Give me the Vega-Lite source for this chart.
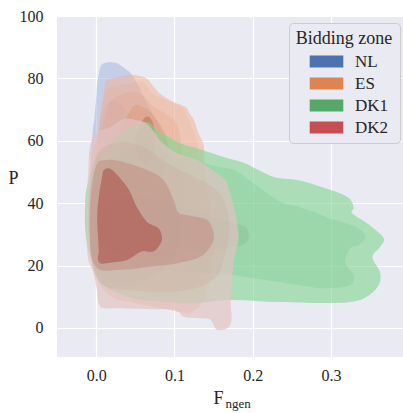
{
  "$schema": "https://vega.github.io/schema/vega-lite/v6.json",
  "width": 346,
  "height": 341,
  "autosize": "none",
  "padding": {"left": 57, "top": 16, "right": 0, "bottom": 56},
  "background": "white",
  "config": {
    "view": {"stroke": null, "fill": "#EAEAF2"},
    "font": "Liberation Serif",
    "axis": {"labelFont": "Liberation Serif", "titleFont": "Liberation Serif", "labelColor": "#262626", "titleColor": "#262626", "titleFontWeight": "normal"},
    "legend": {"labelFont": "Liberation Serif", "titleFont": "Liberation Serif"}
  },
  "datasets": {
    "poly": [
      {"b":"NL1","i":0,"x":-0.005,"y":61},{"b":"NL1","i":1,"x":-0.002,"y":67.6},{"b":"NL1","i":2,"x":0.0004,"y":75},{"b":"NL1","i":3,"x":0.0013,"y":78.3},{"b":"NL1","i":4,"x":0.0055,"y":83.6},{"b":"NL1","i":5,"x":0.012,"y":85},{"b":"NL1","i":6,"x":0.025,"y":85},{"b":"NL1","i":7,"x":0.031,"y":84.2},{"b":"NL1","i":8,"x":0.04,"y":82.6},{"b":"NL1","i":9,"x":0.046,"y":81},{"b":"NL1","i":10,"x":0.055,"y":77},{"b":"NL1","i":11,"x":0.065,"y":72},{"b":"NL1","i":12,"x":0.08,"y":65},{"b":"NL1","i":13,"x":0.095,"y":57},{"b":"NL1","i":14,"x":0.105,"y":48},{"b":"NL1","i":15,"x":0.11,"y":38},{"b":"NL1","i":16,"x":0.105,"y":28},{"b":"NL1","i":17,"x":0.09,"y":20},{"b":"NL1","i":18,"x":0.06,"y":15},{"b":"NL1","i":19,"x":0.03,"y":13},{"b":"NL1","i":20,"x":0.008,"y":14},{"b":"NL1","i":21,"x":-0.004,"y":20},{"b":"NL1","i":22,"x":-0.008,"y":30},{"b":"NL1","i":23,"x":-0.008,"y":45},

      {"b":"NL2","i":0,"x":0.005,"y":65},{"b":"NL2","i":1,"x":0.015,"y":72},{"b":"NL2","i":2,"x":0.03,"y":72},{"b":"NL2","i":3,"x":0.05,"y":66},{"b":"NL2","i":4,"x":0.07,"y":58},{"b":"NL2","i":5,"x":0.085,"y":48},{"b":"NL2","i":6,"x":0.09,"y":38},{"b":"NL2","i":7,"x":0.085,"y":28},{"b":"NL2","i":8,"x":0.06,"y":21},{"b":"NL2","i":9,"x":0.03,"y":19},{"b":"NL2","i":10,"x":0.008,"y":22},{"b":"NL2","i":11,"x":-0.002,"y":32},{"b":"NL2","i":12,"x":-0.002,"y":48},

      {"b":"ES1","i":0,"x":0.0097,"y":75},{"b":"ES1","i":1,"x":0.012,"y":78.8},{"b":"ES1","i":2,"x":0.018,"y":79.8},{"b":"ES1","i":3,"x":0.027,"y":80.4},{"b":"ES1","i":4,"x":0.04,"y":81},{"b":"ES1","i":5,"x":0.052,"y":81},{"b":"ES1","i":6,"x":0.065,"y":79.9},{"b":"ES1","i":7,"x":0.073,"y":77.5},{"b":"ES1","i":8,"x":0.082,"y":75},{"b":"ES1","i":9,"x":0.099,"y":72.4},{"b":"ES1","i":10,"x":0.114,"y":70.8},{"b":"ES1","i":11,"x":0.12,"y":68.5},{"b":"ES1","i":12,"x":0.125,"y":66.6},{"b":"ES1","i":13,"x":0.131,"y":62.3},{"b":"ES1","i":14,"x":0.137,"y":59},{"b":"ES1","i":15,"x":0.138,"y":55},{"b":"ES1","i":16,"x":0.14,"y":48},{"b":"ES1","i":17,"x":0.145,"y":40},{"b":"ES1","i":18,"x":0.15,"y":30},{"b":"ES1","i":19,"x":0.148,"y":20},{"b":"ES1","i":20,"x":0.14,"y":10},{"b":"ES1","i":21,"x":0.12,"y":5},{"b":"ES1","i":22,"x":0.09,"y":6},{"b":"ES1","i":23,"x":0.05,"y":8},{"b":"ES1","i":24,"x":0.02,"y":10},{"b":"ES1","i":25,"x":0.0,"y":16},{"b":"ES1","i":26,"x":-0.007,"y":25},{"b":"ES1","i":27,"x":-0.009,"y":40},{"b":"ES1","i":28,"x":-0.006,"y":55},{"b":"ES1","i":29,"x":0.001,"y":61},{"b":"ES1","i":30,"x":0.0055,"y":69},

      {"b":"ES2","i":0,"x":0.008,"y":72},{"b":"ES2","i":1,"x":0.016,"y":77},{"b":"ES2","i":2,"x":0.035,"y":78},{"b":"ES2","i":3,"x":0.057,"y":78.8},{"b":"ES2","i":4,"x":0.065,"y":77.5},{"b":"ES2","i":5,"x":0.073,"y":75},{"b":"ES2","i":6,"x":0.09,"y":73},{"b":"ES2","i":7,"x":0.105,"y":71.5},{"b":"ES2","i":8,"x":0.112,"y":70},{"b":"ES2","i":9,"x":0.12,"y":65.6},{"b":"ES2","i":10,"x":0.129,"y":60},{"b":"ES2","i":11,"x":0.13,"y":54},{"b":"ES2","i":12,"x":0.132,"y":45},{"b":"ES2","i":13,"x":0.138,"y":35},{"b":"ES2","i":14,"x":0.14,"y":25},{"b":"ES2","i":15,"x":0.13,"y":15},{"b":"ES2","i":16,"x":0.1,"y":10},{"b":"ES2","i":17,"x":0.06,"y":11},{"b":"ES2","i":18,"x":0.02,"y":14},{"b":"ES2","i":19,"x":0.002,"y":20},{"b":"ES2","i":20,"x":-0.005,"y":35},{"b":"ES2","i":21,"x":-0.002,"y":50},{"b":"ES2","i":22,"x":0.003,"y":62},

      {"b":"ES3","i":0,"x":0.012,"y":68},{"b":"ES3","i":1,"x":0.02,"y":73},{"b":"ES3","i":2,"x":0.04,"y":75.5},{"b":"ES3","i":3,"x":0.057,"y":75},{"b":"ES3","i":4,"x":0.074,"y":70.8},{"b":"ES3","i":5,"x":0.09,"y":68.6},{"b":"ES3","i":6,"x":0.103,"y":65.5},{"b":"ES3","i":7,"x":0.108,"y":60},{"b":"ES3","i":8,"x":0.11,"y":54},{"b":"ES3","i":9,"x":0.112,"y":45},{"b":"ES3","i":10,"x":0.11,"y":35},{"b":"ES3","i":11,"x":0.1,"y":27},{"b":"ES3","i":12,"x":0.08,"y":22},{"b":"ES3","i":13,"x":0.05,"y":21},{"b":"ES3","i":14,"x":0.02,"y":24},{"b":"ES3","i":15,"x":0.006,"y":32},{"b":"ES3","i":16,"x":0.004,"y":45},{"b":"ES3","i":17,"x":0.006,"y":60},

      {"b":"ES4","i":0,"x":0.03,"y":62},{"b":"ES4","i":1,"x":0.04,"y":68},{"b":"ES4","i":2,"x":0.05,"y":71.5},{"b":"ES4","i":3,"x":0.065,"y":70},{"b":"ES4","i":4,"x":0.078,"y":66.6},{"b":"ES4","i":5,"x":0.088,"y":62.3},{"b":"ES4","i":6,"x":0.092,"y":58},{"b":"ES4","i":7,"x":0.09,"y":52},{"b":"ES4","i":8,"x":0.075,"y":47},{"b":"ES4","i":9,"x":0.05,"y":47},{"b":"ES4","i":10,"x":0.035,"y":52},

      {"b":"ES5","i":0,"x":0.05,"y":60},{"b":"ES5","i":1,"x":0.055,"y":64},{"b":"ES5","i":2,"x":0.062,"y":67.5},{"b":"ES5","i":3,"x":0.07,"y":67},{"b":"ES5","i":4,"x":0.075,"y":63},{"b":"ES5","i":5,"x":0.074,"y":57},{"b":"ES5","i":6,"x":0.066,"y":53},{"b":"ES5","i":7,"x":0.056,"y":54},

      {"b":"DK1_1","i":0,"x":0.04,"y":64},{"b":"DK1_1","i":1,"x":0.065,"y":66},{"b":"DK1_1","i":2,"x":0.078,"y":63.4},{"b":"DK1_1","i":3,"x":0.095,"y":61},{"b":"DK1_1","i":4,"x":0.11,"y":59},{"b":"DK1_1","i":5,"x":0.137,"y":57},{"b":"DK1_1","i":6,"x":0.167,"y":54.5},{"b":"DK1_1","i":7,"x":0.19,"y":52.8},{"b":"DK1_1","i":8,"x":0.226,"y":48.5},{"b":"DK1_1","i":9,"x":0.257,"y":47.4},{"b":"DK1_1","i":10,"x":0.29,"y":45},{"b":"DK1_1","i":11,"x":0.321,"y":42},{"b":"DK1_1","i":12,"x":0.329,"y":38.7},{"b":"DK1_1","i":13,"x":0.327,"y":36.8},{"b":"DK1_1","i":14,"x":0.346,"y":33.6},{"b":"DK1_1","i":15,"x":0.367,"y":29},{"b":"DK1_1","i":16,"x":0.363,"y":26},{"b":"DK1_1","i":17,"x":0.353,"y":22.7},{"b":"DK1_1","i":18,"x":0.363,"y":17.6},{"b":"DK1_1","i":19,"x":0.359,"y":13},{"b":"DK1_1","i":20,"x":0.337,"y":9},{"b":"DK1_1","i":21,"x":0.299,"y":8},{"b":"DK1_1","i":22,"x":0.235,"y":8.3},{"b":"DK1_1","i":23,"x":0.172,"y":9},{"b":"DK1_1","i":24,"x":0.12,"y":8},{"b":"DK1_1","i":25,"x":0.06,"y":9},{"b":"DK1_1","i":26,"x":0.03,"y":11},{"b":"DK1_1","i":27,"x":0.005,"y":14.4},{"b":"DK1_1","i":28,"x":-0.006,"y":21.8},{"b":"DK1_1","i":29,"x":-0.011,"y":26},{"b":"DK1_1","i":30,"x":-0.014,"y":32},{"b":"DK1_1","i":31,"x":-0.014,"y":40},{"b":"DK1_1","i":32,"x":-0.011,"y":46},{"b":"DK1_1","i":33,"x":0.0,"y":54},{"b":"DK1_1","i":34,"x":0.02,"y":60},

      {"b":"DK1_2","i":0,"x":0.03,"y":56},{"b":"DK1_2","i":1,"x":0.06,"y":59},{"b":"DK1_2","i":2,"x":0.1,"y":55.5},{"b":"DK1_2","i":3,"x":0.15,"y":52},{"b":"DK1_2","i":4,"x":0.176,"y":50.6},{"b":"DK1_2","i":5,"x":0.195,"y":47.5},{"b":"DK1_2","i":6,"x":0.214,"y":44},{"b":"DK1_2","i":7,"x":0.235,"y":40.5},{"b":"DK1_2","i":8,"x":0.257,"y":38.9},{"b":"DK1_2","i":9,"x":0.28,"y":37},{"b":"DK1_2","i":10,"x":0.299,"y":35},{"b":"DK1_2","i":11,"x":0.32,"y":33.5},{"b":"DK1_2","i":12,"x":0.338,"y":31.4},{"b":"DK1_2","i":13,"x":0.344,"y":29},{"b":"DK1_2","i":14,"x":0.335,"y":26.5},{"b":"DK1_2","i":15,"x":0.325,"y":25.6},{"b":"DK1_2","i":16,"x":0.318,"y":21},{"b":"DK1_2","i":17,"x":0.329,"y":17},{"b":"DK1_2","i":18,"x":0.325,"y":13.8},{"b":"DK1_2","i":19,"x":0.299,"y":12.8},{"b":"DK1_2","i":20,"x":0.278,"y":13},{"b":"DK1_2","i":21,"x":0.235,"y":14.7},{"b":"DK1_2","i":22,"x":0.193,"y":16.3},{"b":"DK1_2","i":23,"x":0.172,"y":17},{"b":"DK1_2","i":24,"x":0.12,"y":18},{"b":"DK1_2","i":25,"x":0.05,"y":20},{"b":"DK1_2","i":26,"x":0.0,"y":24},{"b":"DK1_2","i":27,"x":-0.008,"y":32},{"b":"DK1_2","i":28,"x":-0.005,"y":42},{"b":"DK1_2","i":29,"x":0.01,"y":50},

      {"b":"DK1_3","i":0,"x":0.02,"y":40},{"b":"DK1_3","i":1,"x":0.06,"y":42},{"b":"DK1_3","i":2,"x":0.12,"y":38},{"b":"DK1_3","i":3,"x":0.17,"y":34},{"b":"DK1_3","i":4,"x":0.19,"y":32.5},{"b":"DK1_3","i":5,"x":0.195,"y":29.5},{"b":"DK1_3","i":6,"x":0.19,"y":27},{"b":"DK1_3","i":7,"x":0.175,"y":26},{"b":"DK1_3","i":8,"x":0.12,"y":24},{"b":"DK1_3","i":9,"x":0.05,"y":23},{"b":"DK1_3","i":10,"x":0.01,"y":26},{"b":"DK1_3","i":11,"x":0.005,"y":33},

      {"b":"DK2_1","i":0,"x":-0.008,"y":58},{"b":"DK2_1","i":1,"x":0.0,"y":62.5},{"b":"DK2_1","i":2,"x":0.018,"y":64.4},{"b":"DK2_1","i":3,"x":0.035,"y":67},{"b":"DK2_1","i":4,"x":0.052,"y":66.6},{"b":"DK2_1","i":5,"x":0.065,"y":65.5},{"b":"DK2_1","i":6,"x":0.075,"y":62.5},{"b":"DK2_1","i":7,"x":0.082,"y":60},{"b":"DK2_1","i":8,"x":0.103,"y":56},{"b":"DK2_1","i":9,"x":0.129,"y":53.8},{"b":"DK2_1","i":10,"x":0.155,"y":49.5},{"b":"DK2_1","i":11,"x":0.167,"y":46.3},{"b":"DK2_1","i":12,"x":0.176,"y":38.8},{"b":"DK2_1","i":13,"x":0.182,"y":29.2},{"b":"DK2_1","i":14,"x":0.176,"y":21.8},{"b":"DK2_1","i":15,"x":0.172,"y":9},{"b":"DK2_1","i":16,"x":0.173,"y":3},{"b":"DK2_1","i":17,"x":0.168,"y":0},{"b":"DK2_1","i":18,"x":0.154,"y":-0.5},{"b":"DK2_1","i":19,"x":0.146,"y":2.6},{"b":"DK2_1","i":20,"x":0.133,"y":3.1},{"b":"DK2_1","i":21,"x":0.112,"y":3.6},{"b":"DK2_1","i":22,"x":0.101,"y":5.8},{"b":"DK2_1","i":23,"x":0.07,"y":6},{"b":"DK2_1","i":24,"x":0.027,"y":6.3},{"b":"DK2_1","i":25,"x":0.0055,"y":6.8},{"b":"DK2_1","i":26,"x":0.001,"y":12.2},{"b":"DK2_1","i":27,"x":-0.003,"y":17.5},{"b":"DK2_1","i":28,"x":-0.01,"y":22},{"b":"DK2_1","i":29,"x":-0.012,"y":30},{"b":"DK2_1","i":30,"x":-0.012,"y":40},{"b":"DK2_1","i":31,"x":-0.01,"y":50},

      {"b":"DK2_2","i":0,"x":-0.005,"y":50},{"b":"DK2_2","i":1,"x":0.005,"y":57},{"b":"DK2_2","i":2,"x":0.03,"y":59.5},{"b":"DK2_2","i":3,"x":0.06,"y":58},{"b":"DK2_2","i":4,"x":0.09,"y":53},{"b":"DK2_2","i":5,"x":0.12,"y":49},{"b":"DK2_2","i":6,"x":0.15,"y":45},{"b":"DK2_2","i":7,"x":0.165,"y":40},{"b":"DK2_2","i":8,"x":0.17,"y":32},{"b":"DK2_2","i":9,"x":0.165,"y":24},{"b":"DK2_2","i":10,"x":0.155,"y":17},{"b":"DK2_2","i":11,"x":0.13,"y":13},{"b":"DK2_2","i":12,"x":0.09,"y":11.5},{"b":"DK2_2","i":13,"x":0.05,"y":12},{"b":"DK2_2","i":14,"x":0.015,"y":13},{"b":"DK2_2","i":15,"x":0.0,"y":17},{"b":"DK2_2","i":16,"x":-0.008,"y":25},{"b":"DK2_2","i":17,"x":-0.01,"y":38},

      {"b":"DK2_3","i":0,"x":-0.007,"y":42},{"b":"DK2_3","i":1,"x":0.0,"y":52},{"b":"DK2_3","i":2,"x":0.01,"y":53.8},{"b":"DK2_3","i":3,"x":0.03,"y":53.5},{"b":"DK2_3","i":4,"x":0.065,"y":50.6},{"b":"DK2_3","i":5,"x":0.086,"y":47.4},{"b":"DK2_3","i":6,"x":0.099,"y":41},{"b":"DK2_3","i":7,"x":0.105,"y":37},{"b":"DK2_3","i":8,"x":0.12,"y":36},{"b":"DK2_3","i":9,"x":0.142,"y":34.6},{"b":"DK2_3","i":10,"x":0.15,"y":30.3},{"b":"DK2_3","i":11,"x":0.148,"y":27},{"b":"DK2_3","i":12,"x":0.133,"y":22.8},{"b":"DK2_3","i":13,"x":0.103,"y":20.7},{"b":"DK2_3","i":14,"x":0.08,"y":20},{"b":"DK2_3","i":15,"x":0.05,"y":19},{"b":"DK2_3","i":16,"x":0.027,"y":18.6},{"b":"DK2_3","i":17,"x":0.0055,"y":18.6},{"b":"DK2_3","i":18,"x":-0.005,"y":22},{"b":"DK2_3","i":19,"x":-0.008,"y":30},

      {"b":"DK2_4","i":0,"x":0.004,"y":43},{"b":"DK2_4","i":1,"x":0.0077,"y":48.4},{"b":"DK2_4","i":2,"x":0.0097,"y":50.6},{"b":"DK2_4","i":3,"x":0.018,"y":51},{"b":"DK2_4","i":4,"x":0.031,"y":47.9},{"b":"DK2_4","i":5,"x":0.042,"y":44.2},{"b":"DK2_4","i":6,"x":0.052,"y":38.8},{"b":"DK2_4","i":7,"x":0.065,"y":34},{"b":"DK2_4","i":8,"x":0.08,"y":31.9},{"b":"DK2_4","i":9,"x":0.084,"y":28.2},{"b":"DK2_4","i":10,"x":0.076,"y":25},{"b":"DK2_4","i":11,"x":0.069,"y":24.4},{"b":"DK2_4","i":12,"x":0.057,"y":24.4},{"b":"DK2_4","i":13,"x":0.04,"y":21.8},{"b":"DK2_4","i":14,"x":0.02,"y":21},{"b":"DK2_4","i":15,"x":0.0055,"y":20.7},{"b":"DK2_4","i":16,"x":0.002,"y":22.5},{"b":"DK2_4","i":17,"x":0.0033,"y":25},{"b":"DK2_4","i":18,"x":0.0013,"y":35.6}
    ]
  },
  "layer": [
    {
      "data": {"name": "poly"},
      "encoding": {
        "x": {"field": "x", "type": "quantitative",
          "scale": {"domain": [-0.05, 0.392], "nice": false, "zero": false},
          "axis": {"values": [0, 0.1, 0.2, 0.3, 0.4], "format": ".1f", "labelFont": "Liberation Serif", "labelFontSize": 16, "labelPadding": 10, "labelFlush": false, "labelOverlap": false,
            "ticks": false, "domain": false, "grid": true, "gridColor": "white", "gridWidth": 1.2,
            "title": "F", "titleFont": "Liberation Serif", "titleFontSize": 18, "titleAlign": "left", "titleBaseline": "alphabetic", "titleX": 156, "titleY": 46, "orient": "bottom"}},
        "y": {"field": "y", "type": "quantitative",
          "scale": {"domain": [-9.3, 100], "nice": false, "zero": false},
          "axis": {"values": [0, 20, 40, 60, 80, 100], "format": "d", "labelFont": "Liberation Serif", "labelFontSize": 16, "labelPadding": 14, "ticks": false, "domain": false,
            "grid": true, "gridColor": "white", "gridWidth": 1.2,
            "title": "P", "titleFont": "Liberation Serif", "titleFontSize": 18, "titleAngle": 0, "titleAlign": "center", "titleBaseline": "middle", "titleX": -44, "titleY": 162}},
        "order": {"field": "i", "type": "quantitative"}
      },
      "layer": [
        {"transform": [{"filter": {"field": "b", "equal": "NL1"}}], "mark": {"type": "line", "fill": "#ACBAE1", "opacity": 0.6, "strokeWidth": 0, "interpolate": "cardinal-closed"}},
        {"transform": [{"filter": {"field": "b", "equal": "NL2"}}], "mark": {"type": "line", "fill": "#8FA5D6", "opacity": 0.25, "strokeWidth": 0, "interpolate": "cardinal-closed"}},
        {"transform": [{"filter": {"field": "b", "equal": "ES1"}}], "mark": {"type": "line", "fill": "#F1B398", "opacity": 0.55, "strokeWidth": 0, "interpolate": "cardinal-closed"}},
        {"transform": [{"filter": {"field": "b", "equal": "ES2"}}], "mark": {"type": "line", "fill": "#EBA88C", "opacity": 0.2, "strokeWidth": 0, "interpolate": "cardinal-closed"}},
        {"transform": [{"filter": {"field": "b", "equal": "ES3"}}], "mark": {"type": "line", "fill": "#E49A7C", "opacity": 0.22, "strokeWidth": 0, "interpolate": "cardinal-closed"}},
        {"transform": [{"filter": {"field": "b", "equal": "ES4"}}], "mark": {"type": "line", "fill": "#DD8C66", "opacity": 0.3, "strokeWidth": 0, "interpolate": "cardinal-closed"}},
        {"transform": [{"filter": {"field": "b", "equal": "ES5"}}], "mark": {"type": "line", "fill": "#B06A48", "opacity": 0.45, "strokeWidth": 0, "interpolate": "cardinal-closed"}},
        {"transform": [{"filter": {"field": "b", "equal": "DK1_1"}}], "mark": {"type": "line", "fill": "#80D58F", "opacity": 0.6, "strokeWidth": 0, "interpolate": "cardinal-closed"}},
        {"transform": [{"filter": {"field": "b", "equal": "DK1_2"}}], "mark": {"type": "line", "fill": "#70C487", "opacity": 0.25, "strokeWidth": 0, "interpolate": "cardinal-closed"}},
        {"transform": [{"filter": {"field": "b", "equal": "DK1_3"}}], "mark": {"type": "line", "fill": "#6BB582", "opacity": 0.25, "strokeWidth": 0, "interpolate": "cardinal-closed"}},
        {"transform": [{"filter": {"field": "b", "equal": "DK2_1"}}], "mark": {"type": "line", "fill": "#E1C3C3", "opacity": 0.7, "strokeWidth": 0, "interpolate": "cardinal-closed"}},
        {"transform": [{"filter": {"field": "b", "equal": "DK2_2"}}], "mark": {"type": "line", "fill": "#CDA096", "opacity": 0.22, "strokeWidth": 0, "interpolate": "cardinal-closed"}},
        {"transform": [{"filter": {"field": "b", "equal": "DK2_3"}}], "mark": {"type": "line", "fill": "#BE7A70", "opacity": 0.4, "strokeWidth": 0, "interpolate": "cardinal-closed"}},
        {"transform": [{"filter": {"field": "b", "equal": "DK2_4"}}], "mark": {"type": "line", "fill": "#B05C54", "opacity": 0.68, "strokeWidth": 0, "interpolate": "cardinal-closed"}}
      ]
    },
    {
      "data": {"values": []},
      "mark": {"type": "square", "opacity": 1, "filled": true},
      "encoding": {
        "x": {"field": "x", "type": "quantitative",
          "axis": {"orient": "bottom", "labels": false, "ticks": false, "domain": false, "grid": false,
            "title": "ngen", "titleFont": "Liberation Serif", "titleFontSize": 13, "titleAlign": "left", "titleBaseline": "alphabetic", "titleX": 168, "titleY": 50}},
        "fill": {"field": "zone", "type": "nominal",
          "scale": {"domain": ["NL","ES","DK1","DK2"], "range": ["#4C72B0","#DD8452","#55A868","#C44E52"]},
          "legend": {"title": "Bidding zone", "orient": "none", "legendX": 232, "legendY": 7,
            "titleFontSize": 18, "titleFontWeight": "normal", "titleColor": "#262626", "titleAnchor": "middle", "titlePadding": 5,
            "labelFontSize": 17, "labelColor": "#262626", "labelOffset": 20,
            "symbolType": "M-2.8,-1H2.8V1H-2.8Z", "symbolSize": 144, "symbolOffset": 19, "symbolStrokeWidth": 0, "symbolOpacity": 1,
            "rowPadding": 4, "padding": 7, "fillColor": "#EAEAF2", "strokeColor": "#CCCCCC", "cornerRadius": 4}}
      }
    }
  ],
  "resolve": {"axis": {"x": "independent"}}
}
